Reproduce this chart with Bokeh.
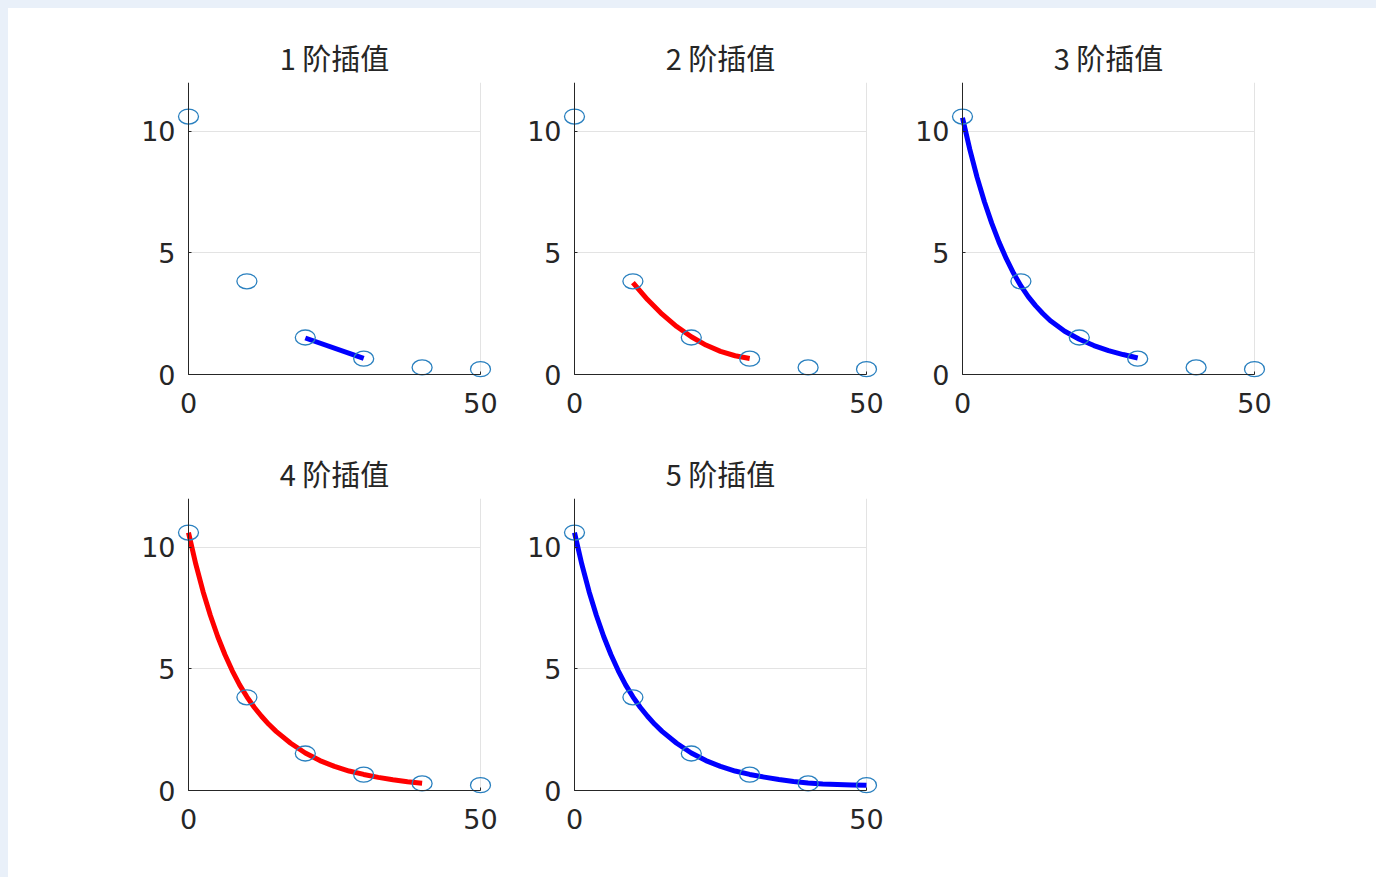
from bokeh.plotting import figure
from bokeh.layouts import row, column
from bokeh.models import Range1d, FixedTicker, LinearAxis
from bokeh.embed import file_html
from bokeh.resources import INLINE

# ---------------- data ----------------
titles = ["1 阶插值", "2 阶插值", "3 阶插值", "4 阶插值", "5 阶插值"]

x_nodes = [0, 10, 20, 30, 40, 50]
y_nodes = [10.6, 3.83, 1.52, 0.65, 0.29, 0.22]

curve1_x = [20, 30]
curve1_y = [1.5, 0.66]

curve2_x = [10, 12.5, 15, 17.5, 20, 22.5, 25, 27.5, 30]
curve2_y = [3.78, 3.08, 2.48, 1.97, 1.55, 1.21, 0.95, 0.77, 0.66]

curve3_x = [0, 1.25, 2.5, 3.75, 5, 6.25, 7.5, 8.75, 10, 11.25, 12.5, 13.75, 15,
            17.5, 20, 22.5, 25, 27.5, 30]
curve3_y = [10.55, 9.25, 8.1, 7.1, 6.22, 5.44, 4.76, 4.16, 3.64, 3.2, 2.83, 2.51, 2.22,
            1.78, 1.45, 1.19, 0.98, 0.82, 0.68]

curve4_x = [0, 1.25, 2.5, 3.75, 5, 6.25, 7.5, 8.75, 10, 11.25, 12.5, 13.75, 15,
            17.5, 20, 22.5, 25, 27.5, 30, 32.5, 35, 37.5, 40]
curve4_y = [10.6, 9.3, 8.17, 7.19, 6.33, 5.58, 4.92, 4.34, 3.85, 3.42, 3.05, 2.72, 2.43,
            1.94, 1.54, 1.23, 0.99, 0.8, 0.66, 0.54, 0.44, 0.36, 0.3]

curve5_x = [0, 1.25, 2.5, 3.75, 5, 6.25, 7.5, 8.75, 10, 11.25, 12.5, 13.75, 15,
            17.5, 20, 22.5, 25, 27.5, 30, 32.5, 35, 37.5, 40, 42.5, 45, 47.5, 50]
curve5_y = [10.6, 9.3, 8.17, 7.19, 6.33, 5.58, 4.92, 4.34, 3.85, 3.42, 3.05, 2.72, 2.43,
            1.94, 1.54, 1.23, 0.99, 0.8, 0.66, 0.55, 0.45, 0.37, 0.31, 0.27, 0.245, 0.23, 0.22]

curve_colors = ["#0000ff", "#ff0000", "#0000ff", "#ff0000", "#0000ff"]

x_ticks = [0, 50]
y_ticks = [0, 5, 10]
x_lim = (0, 50)
y_lim = (0, 12)

curves = [(curve1_x, curve1_y), (curve2_x, curve2_y), (curve3_x, curve3_y),
          (curve4_x, curve4_y), (curve5_x, curve5_y)]

# ---------------- layout geometry ----------------
AX_W = 292          # pixel width of the 0..50 axis box
AX_H = 292          # pixel height of the 0..12 axis box
PAD_X = 12          # extra frame room so the markers are not cut
PAD_Y = 10
TICK_FONT = "DejaVu Sans"
TITLE_FONT = "Noto Sans CJK SC"
TXT = "#262626"


def make_panel(i, left, right, top, bottom):
    ux = (x_lim[1] - x_lim[0]) / AX_W
    uy = (y_lim[1] - y_lim[0]) / AX_H
    fw = AX_W + 2 * PAD_X
    fh = AX_H + PAD_Y
    p = figure(width=left + fw + right, height=top + fh + bottom,
               x_range=Range1d(x_lim[0] - PAD_X * ux, x_lim[1] + PAD_X * ux),
               y_range=Range1d(y_lim[0] - PAD_Y * uy, y_lim[1]),
               output_backend="svg", toolbar_location=None,
               min_border_left=left, min_border_right=right,
               min_border_top=top, min_border_bottom=bottom)
    p.title.text = titles[i]
    p.title.align = "center"
    p.title.text_font = TITLE_FONT
    p.title.text_font_size = "29px"
    p.title.text_font_style = "normal"
    p.title.text_color = TXT
    p.title.standoff = 10
    p.outline_line_color = None
    p.background_fill_color = "white"
    p.border_fill_color = "white"

    # label-only axes at the frame edges
    p.xaxis.ticker = FixedTicker(ticks=x_ticks)
    p.yaxis.ticker = FixedTicker(ticks=y_ticks)
    for ax in (p.xaxis[0], p.yaxis[0]):
        ax.axis_line_color = None
        ax.major_tick_line_color = None
        ax.minor_tick_line_color = None
        ax.major_tick_out = 0
        ax.major_tick_in = 0
        ax.major_label_text_font = TICK_FONT
        ax.major_label_text_font_size = "27px"
        ax.major_label_text_color = TXT
    p.xaxis.major_label_standoff = 18 - PAD_Y
    p.yaxis.major_label_standoff = 13 - PAD_X

    # axis lines drawn at x=0 and y=0
    for loc, lim, ticks, side in ((y_lim[0], x_lim, x_ticks, "below"),
                                  (x_lim[0], y_lim, y_ticks, "left")):
        la = LinearAxis(ticker=FixedTicker(ticks=ticks), fixed_location=loc, bounds=lim,
                        axis_line_color=TXT, axis_line_width=1,
                        major_tick_out=0, major_tick_in=3, major_tick_line_color=TXT,
                        minor_tick_line_color=None, major_label_text_color=None,
                        major_label_text_font_size="1px", major_label_standoff=0)
        p.add_layout(la, side)

    p.xgrid.ticker = FixedTicker(ticks=x_ticks)
    p.ygrid.ticker = FixedTicker(ticks=y_ticks)
    p.xgrid[0].cross_bounds = y_lim
    p.ygrid[0].cross_bounds = x_lim
    p.xgrid[0].bounds = x_lim
    p.ygrid[0].bounds = y_lim
    for g in (p.xgrid[0], p.ygrid[0]):
        g.grid_line_color = "#e3e3e3"
        g.grid_line_width = 1

    cx, cy = curves[i]
    p.line(cx, cy, line_color=curve_colors[i], line_width=5,
           line_join="round", line_cap="butt")
    p.ellipse(x=x_nodes, y=y_nodes, width=20, height=15,
              width_units="screen", height_units="screen",
              fill_color=None, line_color="#2a80bf", line_width=1.3)
    return p


p1 = make_panel(0, 180 - PAD_X, 20 - PAD_X, 74, 50 - PAD_Y)
p2 = make_panel(1, 74 - PAD_X, 20 - PAD_X, 74, 50 - PAD_Y)
p3 = make_panel(2, 76 - PAD_X, 20 - PAD_X, 74, 50 - PAD_Y)
p4 = make_panel(3, 180 - PAD_X, 20 - PAD_X, 74, 80 - PAD_Y)
p5 = make_panel(4, 74 - PAD_X, 20 - PAD_X, 74, 80 - PAD_Y)

layout = column(row(p1, p2, p3), row(p4, p5), width=1368, height=869,
                styles={"background-color": "white"})

html = file_html(layout, INLINE, title="插值")
html = html.replace(
    "</head>",
    "<style>html, body{background:#e9f0f9 !important;} body{padding:8px 0 0 8px !important;}</style></head>",
    1)
open("out.html", "w").write(html)
